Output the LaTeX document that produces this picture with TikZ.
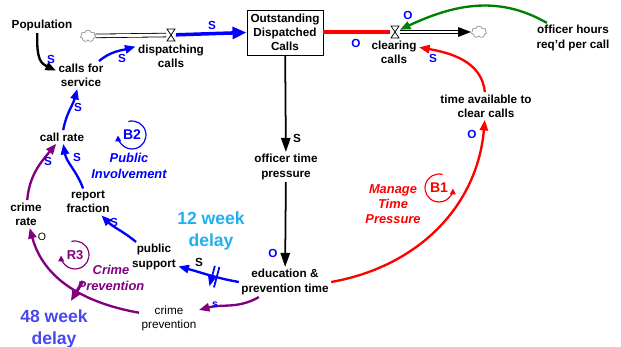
\documentclass[tikz,border=0pt]{standalone}
\usepackage{fontspec}
\setmainfont{Liberation Sans}
\usetikzlibrary{arrows.meta,shapes.symbols,decorations.markings}

\definecolor{vblue}{RGB}{0,0,255}
\definecolor{vred}{RGB}{255,0,0}
\definecolor{vgreen}{RGB}{0,128,0}
\definecolor{vpurple}{RGB}{128,0,128}
\definecolor{skyblue}{RGB}{30,176,240}
\definecolor{violetblue}{RGB}{72,72,240}

\tikzset{
  var/.style={font=\fontsize{10}{12}\selectfont\bfseries, align=center, inner sep=2pt},
  plainvar/.style={font=\fontsize{10}{12}\selectfont, align=center, inner sep=2pt},
  lnk/.style={line width=2pt, -{Triangle[length=9pt,width=7pt]}},
  pol/.style={font=\fontsize{10}{12}\selectfont\bfseries, inner sep=0pt, text=vblue},
  pipe/.style={double distance=2.4pt, line width=0.7pt},
  loopname/.style={font=\fontsize{11}{13}\selectfont\bfseries\itshape, align=center},
  looptag/.style={font=\fontsize{12}{14}\selectfont\bfseries, inner sep=0pt},
  delaytxt/.style={font=\fontsize{15}{18}\selectfont\bfseries, align=center},
  valvept/.style={inner sep=0pt, minimum width=8pt, minimum height=10pt},
  sink/.style={cloud, cloud puffs=7, draw=gray, fill=white, line width=0.5pt,
    minimum width=13pt, minimum height=10pt, inner sep=0pt},
  valve/.pic={\draw[fill=white, line width=0.6pt] (-4,6) -- (4,6) -- (-4,-6) -- (4,-6) -- cycle;},
  hatch/.style={postaction={decorate, decoration={markings,
    mark=at position #1 with {\draw[line width=1.5pt] (-2pt,-9pt) -- (-2pt,9pt) (2pt,-9pt) -- (2pt,9pt);}}}},
  bar/.style={postaction={decorate, decoration={markings,
    mark=at position #1 with {\draw[line width=2.5pt] (0pt,-10pt) -- (0pt,10pt);}}}}
}

\begin{document}
\begin{tikzpicture}[x=0.03cm, y=0.03cm]
  \useasboundingbox (0,0) rectangle (621,-347);

  % stock and its flows
  \node[draw, line width=0.8pt, minimum width=2.28cm, minimum height=1.35cm, var] (stock) at (285,-32.5)
    {Outstanding\\Dispatched\\Calls};
  \node[sink] (srcl) at (88,-36) {};
  \node[sink] (sinkr) at (479,-32) {};
  \node[valvept] (dv) at (171,-35) {};
  \node[valvept] (cv) at (395,-32) {};
  \draw[pipe] (srcl) -- (dv);
  \draw[pipe] (cv) -- (464,-32);
  \fill (458,-27) -- (471,-32) -- (458,-37) -- cycle;
  \draw[vblue, line width=3pt, -{Triangle[length=12pt,width=10pt]}] (dv) -- (stock.west);
  \draw[vred, line width=3pt] (stock.east |- cv) -- (cv);
  \pic at (dv) {valve};
  \pic at (cv) {valve};
  \node[var] (dcl) at (171,-56) {dispatching\\calls};
  \node[var] (ccl) at (394,-52) {clearing\\calls};

  % variables
  \node[var] (pop) at (42,-25) {Population};
  \node[var] (cfs) at (81,-75) {calls for\\service};
  \node[var] (cr) at (62,-137) {call rate};
  \node[var] (rf) at (88,-202) {report\\fraction};
  \node[var] (crt) at (26,-214) {crime\\rate};
  \node[var] (ps) at (154,-257) {public\\support};
  \node[var] (ept) at (285,-282) {education \&\\prevention time};
  \node[plainvar] (cp) at (169,-318) {crime\\prevention};
  \node[var] (otp) at (286,-167) {officer time\\pressure};
  \node[var] (tac) at (486,-106) {time available to\\clear calls};
  \node[var] (ohr) at (573,-38) {officer hours\\req'd per call};

  % links
  \draw[lnk] ([xshift=-4pt]pop.south) .. controls +(-1,-26) and +(-15,7) .. (cfs.170);
  \draw[lnk, vblue] (cfs.north east) ++(-6pt,0) to[out=40,in=195] ([yshift=8pt]dcl.west);
  \draw[lnk, vblue] (cr) to[out=80,in=-105] (cfs);
  \draw[lnk, vblue] (rf) to[out=110,in=-80] (cr);
  \draw[lnk, vpurple] (crt) to[out=85,in=-130] (cr);
  \draw[lnk, vblue] (ps) to[out=140,in=-45] (rf);
  \draw[lnk, vblue, hatch=0.4] (ept.west) to[out=170,in=-15] ([yshift=-8pt]ps.east);
  \draw[lnk, vpurple, bar=0.45] (cp) to[out=170,in=-75] (crt);
  \draw[lnk, vpurple] (ept) to[out=-150,in=15] (cp);
  \draw[line width=1.5pt, -{Triangle[length=12pt,width=8pt]}] (stock) -- (otp);
  \draw[line width=1.5pt, -{Triangle[length=12pt,width=8pt]}] (otp) -- (ept);
  \draw[lnk, vred] (ept.east) to[out=10,in=-95] (tac);
  \draw[lnk, vred] (tac) to[out=95,in=-10] ([yshift=4pt]ccl.east);
  \draw[lnk, vgreen] (ohr) to[out=150,in=25] (cv);

  % polarities
  \node[pol] (p1) at (212,-25) {S};
  \node[pol] (p2) at (51,-59) {S};
  \node[pol] (p3) at (122,-58) {S};
  \node[pol] (p4) at (78,-107) {S};
  \node[pol] (p5) at (77,-157) {S};
  \node[pol] (p6) at (48,-161) {S};
  \node[pol] (p7) at (114,-222) {S};
  \node[pol, text=black] (p8) at (199,-262) {S};
  \node[pol] (p9) at (273,-253) {O};
  \node[pol, font=\fontsize{9}{10}\selectfont\bfseries] (p10) at (215,-305) {s};
  \node[pol, text=black, font=\fontsize{9}{10}\selectfont] (p11) at (42,-237) {O};
  \node[pol, text=black] (p12) at (297,-138) {S};
  \node[pol] (p13) at (356,-43) {O};
  \node[pol] (p14) at (408,-15) {O};
  \node[pol] (p15) at (433,-58) {S};
  \node[pol] (p16) at (472,-134) {O};

  % loops
  \node[looptag, text=vblue] (b2) at (132,-135) {B2};
  \draw[vblue, line width=1pt, -{Triangle[length=5pt,width=5pt]}]
    (b2.center) ++(105:14) arc[start angle=105, end angle=-178, radius=14];
  \node[loopname, text=vblue] (b2n) at (129,-166) {Public\\Involvement};
  \node[looptag, text=vred] (b1) at (439,-188) {B1};
  \draw[vred, line width=1pt, -{Triangle[length=5pt,width=5pt]}]
    (b1.center) ++(75:14) arc[start angle=75, end angle=358, radius=14];
  \node[loopname, text=vred] (b1n) at (393,-204) {Manage\\Time\\Pressure};
  \node[looptag, text=vpurple, font=\fontsize{11}{13}\selectfont\bfseries] (r3) at (75,-255) {R3};
  \draw[vpurple, line width=1pt, -{Triangle[length=5pt,width=5pt]}]
    (r3.center) ++(105:14) arc[start angle=105, end angle=-178, radius=14];
  \node[loopname, text=vpurple] (r3n) at (111,-278) {Crime\\Prevention};

  % delays
  \node[delaytxt, text=skyblue] (d12) at (211,-231) {12 week\\delay};
  \node[delaytxt, text=violetblue] (d48) at (54,-329) {48 week\\delay};
\end{tikzpicture}
\end{document}
